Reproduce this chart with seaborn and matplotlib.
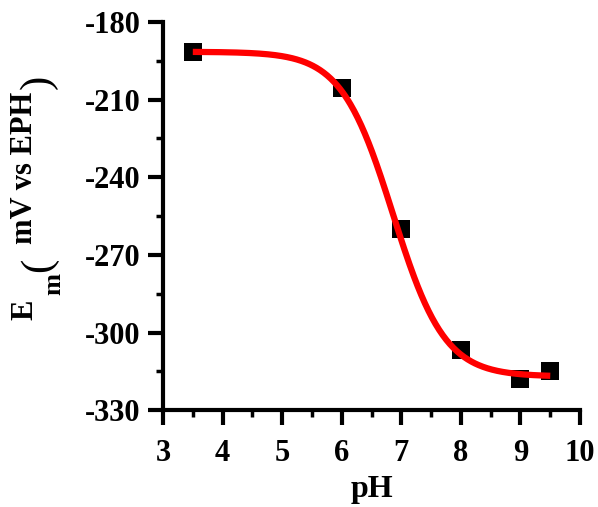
import numpy as np
import pandas as pd
import matplotlib
matplotlib.use("Agg")
import matplotlib.pyplot as plt
import seaborn as sns
from matplotlib.ticker import MultipleLocator

# data
ph_values = [3.5, 6.0, 7.0, 8.0, 9.0, 9.5]
em_values = [-191.5, -205.6, -260.1, -306.8, -318.1, -314.8]

# fitted one-electron/one-proton sigmoid (parameters)
fit_E_acid = -191.5
fit_E_base = -317.0
fit_pKa = 6.86
fit_ph_range = (3.5, 9.5)

x_ticks = [3, 4, 5, 6, 7, 8, 9, 10]
y_ticks = [-330, -300, -270, -240, -210, -180]

x_label = "pH"
y_label_main = "E"
y_label_sub = "m"
y_label_unit = "mV vs EPH"

sns.set_theme(style="ticks")
plt.rcParams["font.family"] = ["Liberation Serif", "DejaVu Serif"]
plt.rcParams["font.weight"] = "bold"
plt.rcParams["axes.unicode_minus"] = False
plt.rcParams["text.color"] = "black"
plt.rcParams["axes.labelcolor"] = "black"

W, H = 598, 507
fig = plt.figure(figsize=(W / 100, H / 100), dpi=100)
ax = fig.add_axes([0.2726, 0.191, 0.970 - 0.2726, 0.9566 - 0.191])

pts = pd.DataFrame({"pH": ph_values, "Em": em_values})
sns.scatterplot(data=pts, x="pH", y="Em", marker="s", s=13**2, color="black",
                edgecolor="black", linewidth=0, ax=ax, zorder=2, clip_on=False)

ph_fit = np.linspace(fit_ph_range[0], fit_ph_range[1], 400)
em_fit = fit_E_base + (fit_E_acid - fit_E_base) / (1 + 10 ** (ph_fit - fit_pKa))
fit = pd.DataFrame({"pH": ph_fit, "Em": em_fit})
sns.lineplot(data=fit, x="pH", y="Em", color="red", linewidth=4.5, ax=ax,
             zorder=3, sort=False)
for l in ax.lines:
    l.set_solid_capstyle("butt")

ax.set_xlim(3, 10)
ax.set_ylim(-330, -180)
ax.set_xticks(x_ticks)
ax.set_yticks(y_ticks)
ax.xaxis.set_minor_locator(MultipleLocator(0.5))
ax.yaxis.set_minor_locator(MultipleLocator(15))

for side in ["top", "right"]:
    ax.spines[side].set_visible(False)
for side in ["left", "bottom"]:
    ax.spines[side].set_linewidth(3)
    ax.spines[side].set_color("black")

ax.tick_params(axis="both", which="major", direction="out", length=11, width=3,
               color="black", labelsize=22, labelcolor="black")
ax.tick_params(axis="both", which="minor", direction="out", length=5, width=2.5,
               color="black")
ax.tick_params(axis="x", which="major", pad=10)
ax.tick_params(axis="y", which="major", pad=5)
for lab in ax.get_xticklabels() + ax.get_yticklabels():
    lab.set_fontweight("bold")

ax.set_xlabel(x_label, fontsize=23, fontweight="bold", labelpad=5, color="black")
ax.set_ylabel("")


def vtext(px, py, s, size, weight="bold"):
    fig.text(px / W, 1 - py / H, s, rotation=90, rotation_mode="anchor",
             ha="left", va="baseline", fontsize=size, fontweight=weight,
             color="black")


# y-axis label pieces: E, subscript m, large parentheses, unit text
vtext(32, 320, y_label_main, 22)
vtext(60, 295, y_label_sub, 19)
vtext(49, 272, "(", 31, "normal")
vtext(32, 244, y_label_unit, 22)
vtext(49, 89, ")", 31, "normal")

fig.savefig("out.png", dpi=100)
